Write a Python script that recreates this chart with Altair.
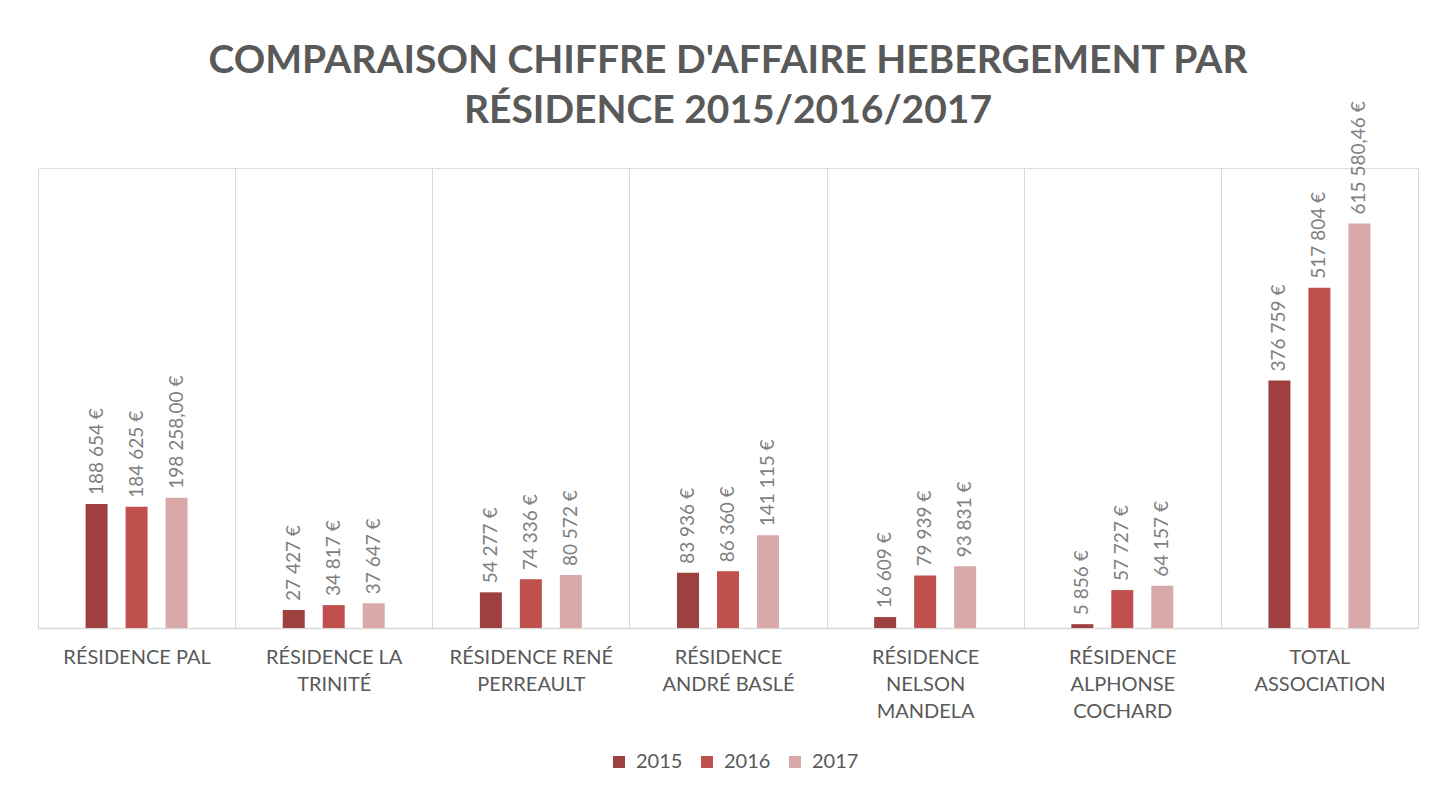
import altair as alt
import pandas as pd

label_lines = [
    ["RÉSIDENCE PAL"],
    ["RÉSIDENCE LA", "TRINITÉ"],
    ["RÉSIDENCE RENÉ", "PERREAULT"],
    ["RÉSIDENCE", "ANDRÉ BASLÉ"],
    ["RÉSIDENCE", "NELSON", "MANDELA"],
    ["RÉSIDENCE", "ALPHONSE", "COCHARD"],
    ["TOTAL", "ASSOCIATION"],
]
categories = ["|".join(l) for l in label_lines]
years = ["2015", "2016", "2017"]
values_2015 = [188654, 27427, 54277, 83936, 16609, 5856, 376759]
values_2016 = [184625, 34817, 74336, 86360, 79939, 57727, 517804]
values_2017 = [198258.00, 37647, 80572, 141115, 93831, 64157, 615580.46]
labels_2015 = ["188 654 €", "27 427 €", "54 277 €", "83 936 €", "16 609 €", "5 856 €", "376 759 €"]
labels_2016 = ["184 625 €", "34 817 €", "74 336 €", "86 360 €", "79 939 €", "57 727 €", "517 804 €"]
labels_2017 = ["198 258,00 €", "37 647 €", "80 572 €", "141 115 €", "93 831 €", "64 157 €", "615 580,46 €"]
colors = ["#9e4040", "#c0504d", "#d9a8a8"]

rows = []
for year, vals, labs in zip(years, [values_2015, values_2016, values_2017],
                            [labels_2015, labels_2016, labels_2017]):
    for c, v, l in zip(categories, vals, labs):
        rows.append({"cat": c, "year": year, "value": v, "label": l})
df = pd.DataFrame(rows)

FONT = "Lato"

x = alt.X(
    "cat:N", sort=categories,
    scale=alt.Scale(paddingInner=0, paddingOuter=0),
    axis=alt.Axis(
        title=None,
        labelExpr="isValid(datum.value) ? split(datum.value, '|') : ''",
        labelAngle=0,
        tickBand="extent", grid=True, gridColor="#d9d9d9", gridWidth=1,
        ticks=False, domainColor="#d9d9d9", domainWidth=1.5,
        labelFont=FONT, labelFontSize=20, labelColor="#595959",
        labelPadding=19, labelLineHeight=27, labelBaseline="top",
        labelLimit=400, labelOverlap=False,
    ),
)
# outer slots pad the group of three bars inside each category band
offset_domain = [" ", "2015", "2016", "2017", "  "]
xo = alt.XOffset("year:N", scale=alt.Scale(domain=offset_domain, paddingInner=0.45, paddingOuter=0.19))
y = alt.Y("value:Q", scale=alt.Scale(domain=[0, 700000]), axis=None)

bars = alt.Chart(df).mark_bar().encode(
    x=x, xOffset=xo, y=y,
    color=alt.Color(
        "year:N", sort=years,
        scale=alt.Scale(domain=years, range=colors),
        legend=alt.Legend(
            title=None, orient="none", direction="horizontal",
            legendX=571, legendY=584, symbolType="square", symbolSize=144,
            symbolStrokeWidth=0, labelFont=FONT, labelFontSize=20,
            labelColor="#595959", columnPadding=14, labelOffset=7,
        ),
    ),
)

texts = alt.Chart(df).mark_text(
    angle=270, align="left", baseline="middle", dx=9,
    font=FONT, fontSize=19, color="#7f7f7f",
).encode(x=x, xOffset=xo, y=y, text="label:N")

chart = alt.layer(bars, texts).properties(
    width=1380, height=460,
    autosize=alt.AutoSizeParams(type="none"),
    padding={"left": 30, "top": 160, "right": 14, "bottom": 156},
    title=alt.TitleParams(
        text=["COMPARAISON CHIFFRE D'AFFAIRE HEBERGEMENT PAR", "RÉSIDENCE 2015/2016/2017"],
        font=FONT, fontSize=39, fontWeight="bold", color="#595959",
        anchor="middle", offset=-30, lineHeight=50,
    ),
).configure_view(stroke=None).configure(background="white")

chart.save("out.html", embed_options={"renderer": "svg", "actions": False})
